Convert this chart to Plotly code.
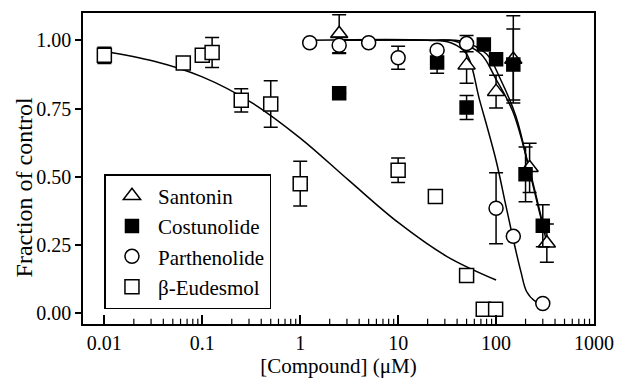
import plotly.graph_objects as go

# ---------------- data ----------------
# Santonin (open triangles)
san_x = [2.5, 50, 100, 150, 220, 330]
san_y = [1.024, 0.909, 0.812, 0.93, 0.533, 0.257]
san_e = [0.07, 0.066, 0.06, 0.16, 0.09, 0.07]

# Costunolide (filled squares)
cos_x = [2.5, 25, 50, 75, 100, 150, 200, 300]
cos_y = [0.806, 0.919, 0.754, 0.985, 0.931, 0.911, 0.509, 0.321]
cos_e = [0.0, 0.04, 0.044, 0.0, 0.0, 0.13, 0.10, 0.077]

# Parthenolide (open circles)
par_x = [1.25, 2.5, 5, 10, 25, 50, 100, 150, 300]
par_y = [0.991, 0.982, 0.991, 0.936, 0.964, 0.988, 0.385, 0.282, 0.036]
par_e = [0.0, 0.03, 0.0, 0.042, 0.0, 0.03, 0.13, 0.0, 0.0]

# beta-Eudesmol (open squares)
eud_x = [0.01, 0.064, 0.1, 0.126, 0.25, 0.5, 1.0, 10, 24, 50, 74, 99]
eud_y = [0.945, 0.917, 0.945, 0.955, 0.78, 0.767, 0.475, 0.524, 0.428, 0.139, 0.015, 0.015]
eud_e = [0.03, 0.0, 0.0, 0.055, 0.043, 0.085, 0.082, 0.045, 0.015, 0.0, 0.0, 0.0]

# fitted curves
eud_cx = [0.01, 0.0316, 0.1, 0.316, 1.0, 3.16, 10, 31.6, 100]
eud_cy = [0.959, 0.924, 0.866, 0.773, 0.642, 0.486, 0.333, 0.208, 0.122]

par_cx = [1.25, 20, 35, 50, 68, 100, 125, 150, 180, 205, 250, 300]
par_cy = [1.0, 1.0, 0.99, 0.95, 0.78, 0.56, 0.40, 0.27, 0.15, 0.08, 0.045, 0.036]

cos_cx = [2.5, 20, 39, 70, 99, 148, 209, 317]
cos_cy = [1.0, 1.0, 0.996, 0.95, 0.86, 0.74, 0.557, 0.29]

san_cx = [2.5, 20, 45, 80, 110, 160, 220, 340]
san_cy = [1.0, 1.0, 0.996, 0.95, 0.86, 0.72, 0.52, 0.24]

x_tickvals = [0.01, 0.1, 1, 10, 100, 1000]
x_ticktext = ["0.01", "0.1", "1", "10", "100", "1000"]
x_minorvals = [m * d for d in [0.01, 0.1, 1, 10, 100] for m in range(2, 10)]
y_tickvals = [0.0, 0.25, 0.5, 0.75, 1.0]

FONT = "'Liberation Serif', 'Times New Roman', Times, serif"

fig = go.Figure()

def curve(x, y):
    fig.add_trace(go.Scatter(x=x, y=y, mode="lines", line=dict(color="black", width=1.5, shape="spline", smoothing=1.0),
                             showlegend=False, hoverinfo="skip"))

curve(eud_cx, eud_cy)
curve(par_cx, par_cy)
curve(cos_cx, cos_cy)
curve(san_cx, san_cy)

def pts(x, y, e, name, symbol, fill, size):
    fig.add_trace(go.Scatter(
        x=x, y=y, mode="markers", name=name,
        marker=dict(symbol=symbol, size=size, color=fill, line=dict(color="black", width=1.5)),
        error_y=dict(type="data", array=e, visible=True, color="black", thickness=1.5, width=7),
    ))

pts(san_x, san_y, san_e, "Santonin", "triangle-up", "white", 15)
pts(cos_x, cos_y, cos_e, "Costunolide", "square", "black", 13)
pts(par_x, par_y, par_e, "Parthenolide", "circle", "white", 14)
pts(eud_x, eud_y, eud_e, "β-Eudesmol", "square", "white", 14)

# minor ticks on the log x axis (inside)
for mv in x_minorvals:
    fig.add_shape(type="line", xref="x", yref="y domain", x0=mv, x1=mv, y0=0, y1=0.017,
                  line=dict(color="black", width=1.2))

fig.add_annotation(text="Fraction of control", xref="paper", yref="paper",
                   x=-0.115, y=0.44, textangle=-90, showarrow=False,
                   xanchor="center", yanchor="middle",
                   font=dict(family=FONT, size=24, color="black"))

fig.update_layout(
    width=625, height=384,
    margin=dict(l=83, r=23, t=11, b=60),
    paper_bgcolor="white", plot_bgcolor="white",
    font=dict(family=FONT, size=20, color="black"),
    legend=dict(x=0.042, y=0.482, xanchor="left", yanchor="top",
                bordercolor="black", borderwidth=1.5, bgcolor="white",
                font=dict(family=FONT, size=21), itemwidth=42,
                tracegroupgap=0),
)
fig.update_xaxes(
    type="log", range=[-2.218, 3.0],
    tickvals=x_tickvals, ticktext=x_ticktext,
    ticks="inside", ticklen=9, tickwidth=1.5, tickcolor="black",
    showline=True, linecolor="black", linewidth=1.5, mirror=True,
    showgrid=False, zeroline=False,
    title=dict(text="[Compound] (μM)", font=dict(family=FONT, size=21), standoff=5),
    tickfont=dict(family=FONT, size=20),
)
fig.update_yaxes(
    range=[-0.039, 1.10],
    tickvals=y_tickvals, tickformat=".2f",
    ticks="outside", ticklen=6, tickwidth=1.5, tickcolor="black",
    showline=True, linecolor="black", linewidth=1.5, mirror=True,
    showgrid=False, zeroline=False,
    tickfont=dict(family=FONT, size=20),
)

fig.write_html("out.html")
